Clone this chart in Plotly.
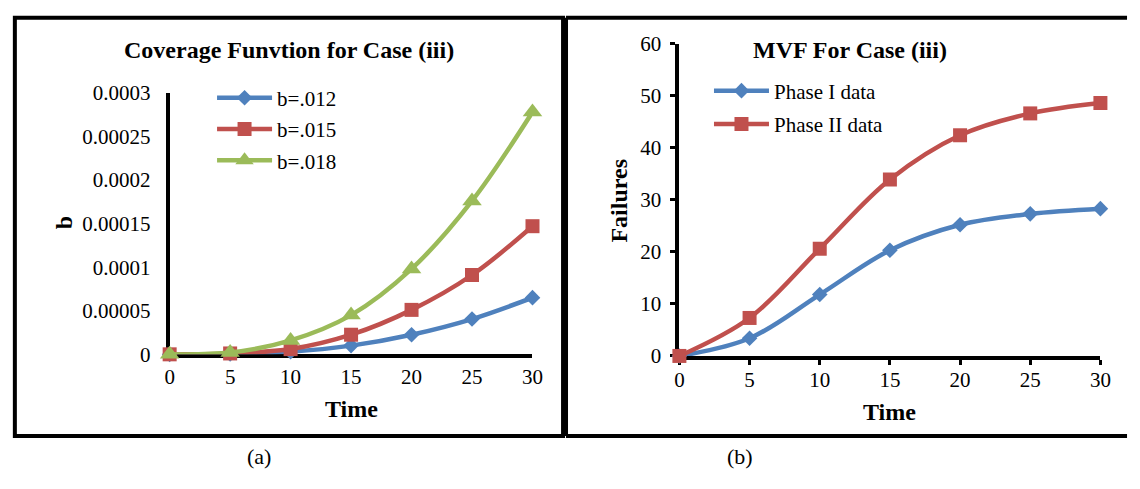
import plotly.graph_objects as go

W, H = 1140, 489

# ---- data ----
time = [0, 5, 10, 15, 20, 25, 30]
b012 = [0, 0.0000004, 0.000003, 0.00001, 0.0000225, 0.0000405, 0.000065]
b015 = [0, 0.000001, 0.000006, 0.0000225, 0.000051, 0.000091, 0.000147]
b018 = [0, 0.000002, 0.000016, 0.000045, 0.000098, 0.000176, 0.000278]
phase1 = [0, 3.4, 11.8, 20.3, 25.2, 27.3, 28.3]
phase2 = [0, 7.3, 20.6, 33.9, 42.4, 46.6, 48.6]

left_yticks = [0, 0.00005, 0.0001, 0.00015, 0.0002, 0.00025, 0.0003]
left_yticktext = ["0", "0.00005", "0.0001", "0.00015", "0.0002", "0.00025", "0.0003"]
right_yticks = [0, 10, 20, 30, 40, 50, 60]
xticks = [0, 5, 10, 15, 20, 25, 30]

BLUE, RED, GREEN = "#4F81BD", "#C0504D", "#9BBB59"
FONT = "Liberation Serif"


def px(x):
    return x / W


def py(y):
    return 1 - y / H


fig = go.Figure()

left_series = [("b=.012", b012, BLUE, "diamond", 12),
               ("b=.015", b015, RED, "square", 14),
               ("b=.018", b018, GREEN, "triangle-up", 17)]
for i, (name, vals, col, sym, sz) in enumerate(left_series):
    fig.add_trace(go.Scatter(
        x=time, y=vals, name=name, mode="lines+markers",
        line=dict(color=col, width=4.5, shape="spline", smoothing=1),
        marker=dict(symbol=sym, size=sz, color=col, line=dict(width=0)),
        xaxis="x", yaxis="y", legend="legend", legendgroup=f"l{i}",
        cliponaxis=False))

right_series = [("Phase I data", phase1, BLUE, "diamond", 12),
                ("Phase II data", phase2, RED, "square", 14)]
for i, (name, vals, col, sym, sz) in enumerate(right_series):
    fig.add_trace(go.Scatter(
        x=time, y=vals, name=name, mode="lines+markers",
        line=dict(color=col, width=4.5, shape="spline", smoothing=1),
        marker=dict(symbol=sym, size=sz, color=col, line=dict(width=0)),
        xaxis="x2", yaxis="y2", legend="legend2", legendgroup=f"r{i}",
        cliponaxis=False))

axis_common = dict(showgrid=False, zeroline=False, showline=True,
                   linecolor="black", linewidth=4, layer="below traces",
                   tickfont=dict(family=FONT, size=21, color="black"))

fig.update_layout(
    width=W, height=H, margin=dict(l=0, r=0, t=0, b=0),
    paper_bgcolor="white", plot_bgcolor="white",
    font=dict(family=FONT, color="black"),
    xaxis=dict(domain=[px(167), px(535)], range=[0, 30], tickvals=xticks,
               anchor="y", ticks="", ticklabelstandoff=0, **axis_common),
    yaxis=dict(domain=[py(360), py(85)], range=[0, 0.0003], tickvals=left_yticks,
               ticktext=left_yticktext, anchor="x", ticks="",
               ticklabelstandoff=11, **axis_common),
    xaxis2=dict(domain=[px(684), px(1111)], range=[0, 30], tickvals=xticks,
                anchor="y2", ticks="outside", ticklen=5, tickwidth=3,
                tickcolor="black", ticklabelstandoff=-3, **axis_common),
    yaxis2=dict(domain=[py(361.7), py(33.3)], range=[0, 60], tickvals=right_yticks,
                anchor="x2", ticks="outside", ticklen=5, tickwidth=3,
                tickcolor="black", ticklabelstandoff=5, **axis_common),
    legend=dict(x=px(210), y=py(69), xanchor="left", yanchor="top",
                bgcolor="rgba(0,0,0,0)", font=dict(family=FONT, size=21),
                itemwidth=55, tracegroupgap=1),
    legend2=dict(x=px(714), y=py(61.5), xanchor="left", yanchor="top",
                 bgcolor="rgba(0,0,0,0)", font=dict(family=FONT, size=21),
                 itemwidth=55, tracegroupgap=3),
)

# frames
fig.add_shape(type="rect", xref="paper", yref="paper",
              x0=px(10), x1=px(566), y0=py(446), y1=py(6),
              line=dict(color="black", width=4))
fig.add_shape(type="line", xref="paper", yref="paper",
              x0=px(569), x1=px(1138), y0=py(6), y1=py(6),
              line=dict(color="black", width=4))
fig.add_shape(type="line", xref="paper", yref="paper",
              x0=px(569), x1=px(1138), y0=py(446), y1=py(446),
              line=dict(color="black", width=4))
fig.add_shape(type="line", xref="paper", yref="paper",
              x0=px(569), x1=px(569), y0=py(446), y1=py(6),
              line=dict(color="black", width=4))

ann = [
    ("<b>Coverage Funvtion for Case (iii)</b>", 288, 40, 24, 0),
    ("<b>MVF For Case (iii)</b>", 857, 40, 24, 0),
    ("<b>Time</b>", 351, 418, 24, 0),
    ("<b>Time</b>", 897, 421, 24, 0),
    ("<b>b</b>", 60, 222, 24, -90),
    ("<b>Failures</b>", 623, 198, 24, -90),
    ("(a)", 258, 467, 22, 0),
    ("(b)", 745, 467, 22, 0),
]
for text, x, y, size, ang in ann:
    fig.add_annotation(text=text, x=px(x), y=py(y), xref="paper", yref="paper",
                       xanchor="center", yanchor="middle", showarrow=False,
                       textangle=ang, font=dict(family=FONT, size=size, color="black"))

fig.write_html("out.html")
